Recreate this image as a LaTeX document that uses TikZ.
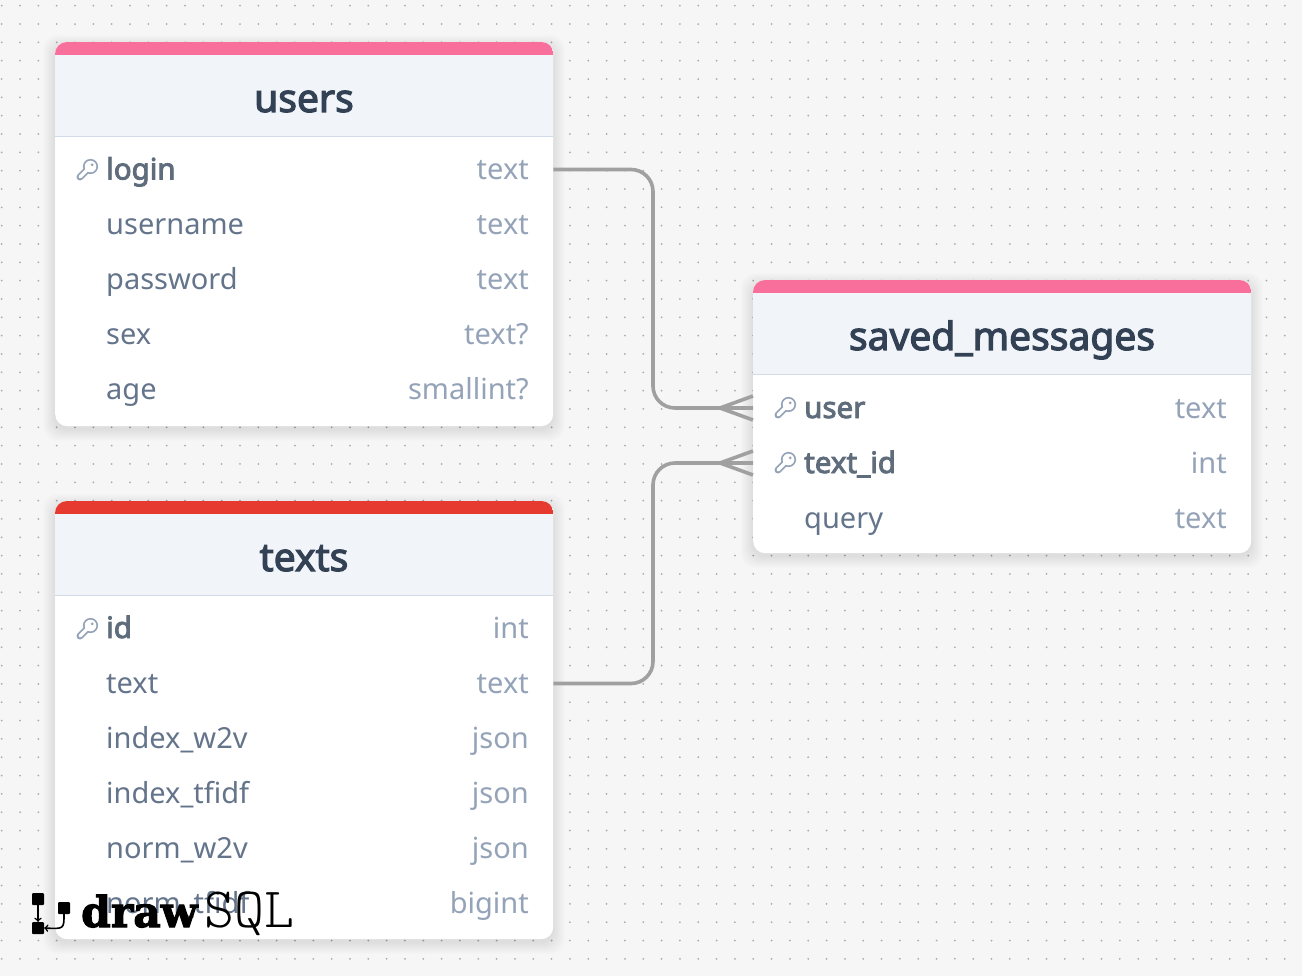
\documentclass[tikz,border=0pt]{standalone}
\usepackage{fontspec}
\setmainfont{Noto Sans}
\newfontfamily\keyfont{Noto Sans}[FakeBold=3]
\newfontfamily\logobold{DejaVu Serif Bold}[FakeBold=2.5]
\usepackage{tikz}
\usetikzlibrary{calc}
\definecolor{pagebg}{HTML}{F6F6F6}
\definecolor{griddot}{HTML}{ABABAB}
\definecolor{bandpink}{HTML}{F96F9C}
\definecolor{bandred}{HTML}{E63A31}
\definecolor{headbg}{HTML}{F1F4F9}
\definecolor{headline}{HTML}{D2DBE8}
\definecolor{titleink}{HTML}{334155}
\definecolor{nameink}{HTML}{64748B}
\definecolor{keyink}{HTML}{5E6C7C}
\definecolor{kindink}{HTML}{94A3B8}
\definecolor{relink}{HTML}{A0A0A0}
\tikzset{
	x=1pt, y=-1pt,
	rownode/.style={inner sep=0pt, text height=20pt, text depth=0pt},
	colname/.style={rownode, anchor=west, text=nameink, font=\fontsize{29}{32}\selectfont},
	colkey/.style={colname, text=keyink, font=\keyfont\fontsize{29.5}{32}\selectfont},
	colkind/.style={rownode, anchor=east, text=kindink, font=\fontsize{29}{32}\selectfont},
	tabletitle/.style={inner sep=0pt, text=titleink, text height=24pt, text depth=0pt, font=\keyfont\fontsize{39}{42}\selectfont},
	card/.style={inner sep=0pt, fill=white, rounded corners=12pt, anchor=north west},
	softshadow/.style={black, opacity=0.008},
	relation/.style={relink, line width=3.6pt, rounded corners=22pt},
	crowfoot/.style={relink, line width=3.6pt},
	logosquare/.style={fill=black, inner sep=0pt, minimum size=12pt, rounded corners=1pt},
	logoarrow/.style={-to, line width=1.6pt},
	keyicon/.pic={
		\draw[kindink, line width=7pt, line cap=round] (-7,7) -- (3,-3);
		\fill[kindink] (3.5,-3.5) circle (7.6);
		\draw[white, line width=3.2pt, line cap=round] (-7,7) -- (3,-3);
		\fill[white] (3.5,-3.5) circle (5.8);
		\fill[kindink] (5.2,-5.2) circle (1.5);
	}
}
% name, left, top, bottom, band colour, title
\newcommand{\tablecard}[6]{
	\foreach \g in {1,...,12}{
		\fill[softshadow, rounded corners=14pt] ({#2-\g},{#3-\g+5}) rectangle ({#2+498+\g},{#4+\g+3});
	}
	\node[card, minimum width=498pt, minimum height={#4-#3}] (#1) at (#2,#3) {};
	\begin{scope}
		\clip[rounded corners=12pt] (#1.north west) rectangle (#1.south east);
		\fill[headbg] (#2,#3) rectangle ({#2+498},{#3+94});
		\fill[#5] (#2,#3) rectangle ({#2+498},{#3+13});
		\fill[headline] (#2,{#3+94}) rectangle ({#2+498},{#3+95});
	\end{scope}
	\node[tabletitle] (#1-title) at ({#2+249},{#3+58}) {#6};
}

\begin{document}
\begin{tikzpicture}
	\useasboundingbox (0,0) rectangle (1302,976);
	\fill[pagebg] (0,0) rectangle (1302,976);
	\foreach \i in {0,...,70}{
		\foreach \j in {0,...,52}{
			\fill[griddot] ({1.7+18.33*\i},{5.7+18.33*\j}) circle (1);
		}
	}

	\tablecard{users}{55}{42}{426}{bandpink}{users}
	\tablecard{texts}{55}{501}{939}{bandred}{texts}
	\tablecard{saved}{753}{280}{553}{bandpink}{saved\_messages}

	\foreach[count=\i] \y/\name/\kind in {224.5/username/text, 279.5/password/text, 334.5/sex/text?, 389.5/age/smallint?}{
		\node[colname] (users-\i) at (106,\y) {\name};
		\node[colkind] (users-kind-\i) at (529,\y) {\kind};
	}
	\node[colkey] (users-key) at (106,169.5) {login};
	\node[colkind] (users-key-kind) at (529,169.5) {text};
	\pic at (87,170) {keyicon};

	\foreach[count=\i] \y/\name/\kind in {683.5/text/text, 738/index\_w2v/json, 793/index\_tfidf/json, 848/norm\_w2v/json, 903/norm\_tfidf/bigint}{
		\node[colname] (texts-\i) at (106,\y) {\name};
		\node[colkind] (texts-kind-\i) at (529,\y) {\kind};
	}
	\node[colkey] (texts-key) at (106,628) {id};
	\node[colkind] (texts-key-kind) at (529,628) {int};
	\pic at (87,629) {keyicon};

	\node[colkey] (saved-1) at (804,408) {user};
	\node[colkind] (saved-kind-1) at (1227,408) {text};
	\node[colkey] (saved-2) at (804,463) {text\_id};
	\node[colkind] (saved-kind-2) at (1227,463) {int};
	\node[colname] (saved-3) at (804,518) {query};
	\node[colkind] (saved-kind-3) at (1227,518) {text};
	\pic at (785,408) {keyicon};
	\pic at (785,463) {keyicon};

	\coordinate (bend-users) at (653,408);
	\coordinate (bend-texts) at (653,463);
	\draw[relation] (users.east |- users-key) -| (bend-users) -- (saved.west |- saved-1);
	\draw[relation] (texts.east |- texts-1) -| (bend-texts) -- (saved.west |- saved-2);
	\foreach \row in {saved-1, saved-2}{
		\coordinate (foot) at ($(saved.west |- \row)+(-33,0)$);
		\draw[crowfoot] (foot) -- ($(saved.west |- \row)+(0,-12)$);
		\draw[crowfoot] (foot) -- ($(saved.west |- \row)+(0,12)$);
	}

	\node[logosquare] (logo-a) at (38,899) {};
	\node[logosquare] (logo-b) at (38,928) {};
	\node[logosquare] (logo-c) at (64,908) {};
	\draw[logoarrow] (logo-a) -- (logo-b);
	\draw[logoarrow] (logo-c.south) .. controls (64,929) .. (logo-b.east);
	\node[inner sep=0pt, anchor=base west, font=\logobold\fontsize{42.5}{46}\selectfont] (logo-draw) at (81,927) {draw};
	\node[inner sep=0pt, anchor=base west, font=\fontfamily{lmtt}\fontseries{l}\fontsize{57}{60}\selectfont] (logo-sql) at (204,927) {SQL};
\end{tikzpicture}
\end{document}
